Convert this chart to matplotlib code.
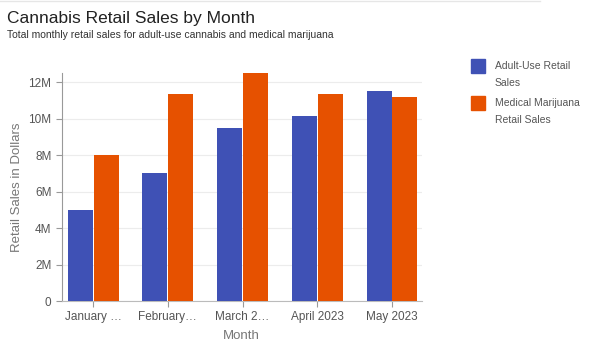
import matplotlib
matplotlib.use('Agg')
import matplotlib.pyplot as plt
import numpy as np
from matplotlib.ticker import FuncFormatter

plt.rcParams['font.family'] = ['Liberation Sans', 'DejaVu Sans']

months = ['January …', 'February…', 'March 2…', 'April 2023', 'May 2023']
adult_use = [5.0e6, 7.0e6, 9.5e6, 10.15e6, 11.5e6]
medical = [8.0e6, 11.35e6, 12.55e6, 11.35e6, 11.2e6]
series_names = ['Adult-Use Retail\nSales', 'Medical Marijuana\nRetail Sales']
colors = ['#3f51b5', '#e65100']

fig = plt.figure(figsize=(6, 3.53), dpi=100)
ax = fig.add_axes([0.103, 0.147, 0.6, 0.646])

x = np.arange(len(months))
w = 0.335
ax.bar(x - w / 2 - 0.005, adult_use, w, color=colors[0], zorder=3)
ax.bar(x + w / 2 + 0.005, medical, w, color=colors[1], zorder=3)

ax.set_xlim(-0.42, 4.4)
ax.set_ylim(0, 12.5e6)
ax.set_yticks(np.arange(0, 12.1e6, 2e6))
ax.yaxis.set_major_formatter(FuncFormatter(lambda v, p: '0' if v == 0 else '%dM' % (v / 1e6)))
ax.set_xticks(x)
ax.set_xticklabels(months)
ax.grid(axis='y', color='#ececec', linewidth=0.8, zorder=0)

for s in ['top', 'right']:
    ax.spines[s].set_visible(False)
ax.spines['left'].set_color('#999999')
ax.spines['bottom'].set_color('#bbbbbb')
ax.tick_params(axis='both', colors='#999999', labelcolor='#555555', labelsize=8.5, length=4)
ax.tick_params(axis='x', pad=3)

ax.set_ylabel('Retail Sales in Dollars', fontsize=9.5, color='#777777', labelpad=4)
ax.set_xlabel('Month', fontsize=9.5, color='#777777', labelpad=5)

fig.text(0.012, 0.948, 'Cannabis Retail Sales by Month', fontsize=12.5, color='#222222', va='center')
fig.text(0.012, 0.9, 'Total monthly retail sales for adult-use cannabis and medical marijuana',
         fontsize=7.5, color='#333333', va='center')

# top border line
fig.add_artist(plt.Line2D([0, 0.9], [0.997, 0.997], color='#e6e6e6', linewidth=1))

# legend
for i, name in enumerate(series_names):
    yy = 0.813 - i * 0.105
    fig.patches.append(plt.Rectangle((0.785, yy - 0.02), 0.023, 0.04, color=colors[i],
                                     transform=fig.transFigure, figure=fig))
    fig.text(0.825, yy + 0.015, name, fontsize=7.5, color='#555555', va='top', linespacing=1.9)

fig.savefig('out.png', dpi=100)
